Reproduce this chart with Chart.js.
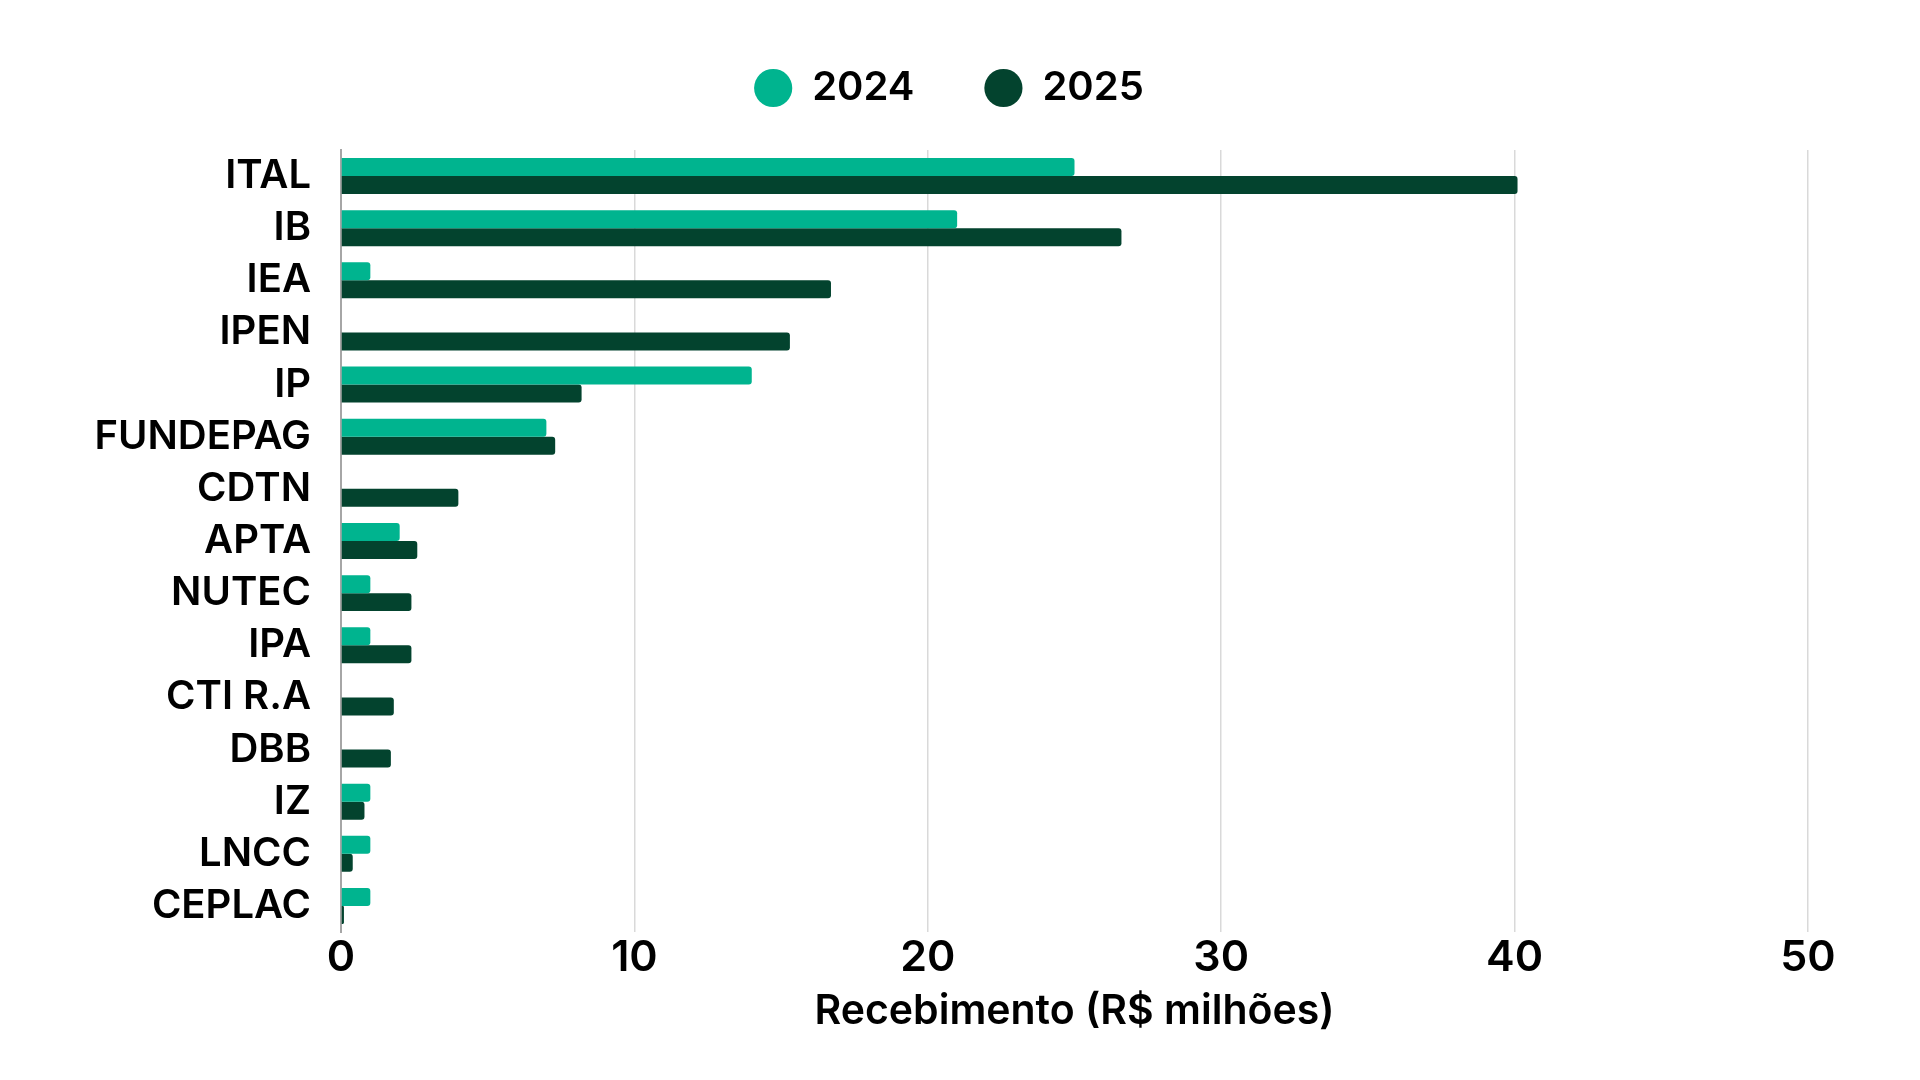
<!DOCTYPE html>
<html>
<head>
<meta charset="utf-8">
<script src="https://cdn.jsdelivr.net/npm/chart.js@4.4.1/dist/chart.umd.min.js"></script>
<style>
  html, body { margin: 0; padding: 0; background: #fff; }
  #wrap { width: 1920px; height: 1080px; }
</style>
</head>
<body>
<div id="wrap"><canvas id="myChart" width="1920" height="1080"></canvas></div>
<script>
// Dados (R$ milhões)
var institutos = ['ITAL', 'IB', 'IEA', 'IPEN', 'IP', 'FUNDEPAG', 'CDTN', 'APTA', 'NUTEC', 'IPA', 'CTI R.A', 'DBB', 'IZ', 'LNCC', 'CEPLAC'];
var valores2024 = [25.0, 21.0, 1.0, null, 14.0, 7.0, null, 2.0, 1.0, 1.0, null, null, 1.0, 1.0, 1.0];
var valores2025 = [40.1, 26.6, 16.7, 15.3, 8.2, 7.3, 4.0, 2.6, 2.4, 2.4, 1.8, 1.7, 0.8, 0.4, 0.1];
var xTicks = [0, 10, 20, 30, 40, 50];

var fonte = 'Inter, "Noto Sans", sans-serif';

Chart.defaults.font.family = fonte;
Chart.defaults.color = '#000';

var ctx = document.getElementById('myChart').getContext('2d');
var myChart = new Chart(ctx, {
    type: 'bar',
    data: {
        labels: institutos,
        datasets: [
            {
                label: '2024',
                data: valores2024,
                backgroundColor: '#00b48f',
                borderRadius: 3,
                borderSkipped: 'start'
            },
            {
                label: '2025',
                data: valores2025,
                backgroundColor: '#03432e',
                borderRadius: 3,
                borderSkipped: 'start'
            }
        ]
    },
    options: {
        indexAxis: 'y',
        responsive: false,
        animation: false,
        devicePixelRatio: 1,
        layout: {
            padding: { top: -2, left: 90, right: 112, bottom: 48 }
        },
        datasets: {
            bar: { barPercentage: 1, categoryPercentage: 0.69 }
        },
        plugins: {
            tooltip: { enabled: false },
            legend: {
                position: 'top',
                labels: {
                    usePointStyle: true,
                    pointStyle: 'circle',
                    boxWidth: 38,
                    boxHeight: 27,
                    padding: 70,
                    color: '#000',
                    font: { size: 40, weight: '600' }
                }
            },
            // espaço vazio entre a legenda e o gráfico
            title: {
                display: true,
                text: '',
                position: 'top',
                weight: 10,
                font: { size: 1, lineHeight: 1 },
                padding: { top: 16, bottom: 15 }
            }
        },
        scales: {
            x: {
                min: 0,
                max: 50,
                afterBuildTicks: function (scale) {
                    scale.ticks = xTicks.map(function (v) { return { value: v }; });
                },
                grid: {
                    color: '#d9d9d9',
                    lineWidth: 1.5,
                    drawTicks: false
                },
                border: { display: false },
                ticks: {
                    padding: 5,
                    color: '#000',
                    font: { size: 43, weight: '600', lineHeight: 1 }
                },
                title: {
                    display: true,
                    text: 'Recebimento (R$ milhões)',
                    color: '#000',
                    padding: { top: 6, bottom: 0 },
                    font: { size: 41, weight: '600', lineHeight: 1 }
                }
            },
            y: {
                afterFit: function (scale) { scale.width = 251; },
                grid: { display: false, drawTicks: false },
                border: { display: true, color: '#a6a6a6', width: 2 },
                ticks: {
                    padding: 30,
                    color: '#000',
                    font: { size: 40, weight: '600' }
                }
            }
        }
    }
});
</script>
</body>
</html>
